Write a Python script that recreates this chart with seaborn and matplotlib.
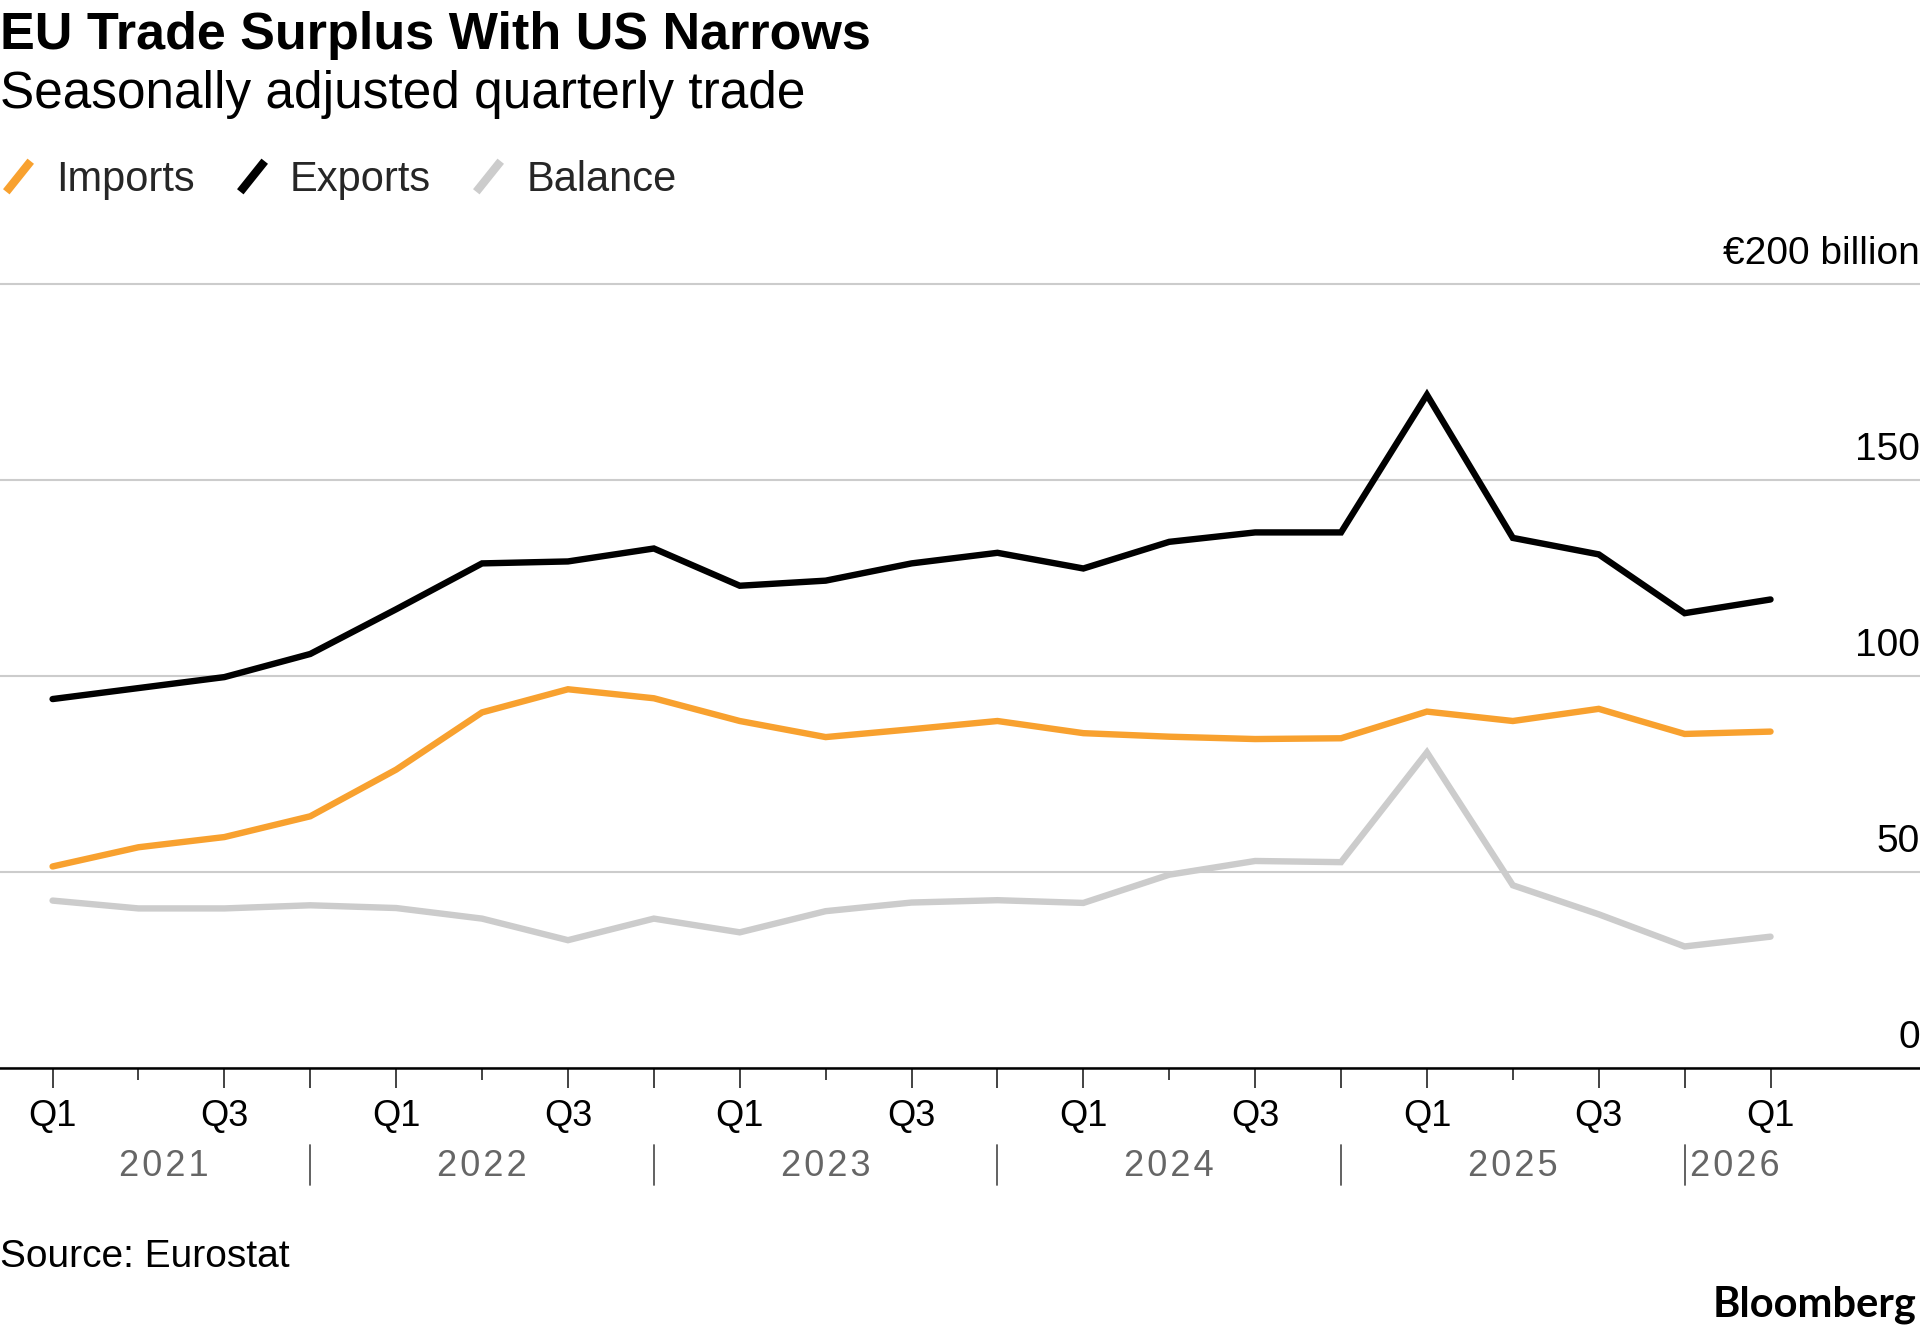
import pandas as pd
import seaborn as sns
import matplotlib.pyplot as plt
from matplotlib.lines import Line2D
from matplotlib import transforms

# Quarterly data, Q1 2021 .. Q1 2026 (EUR billion)
quarters = ['Q1', 'Q2', 'Q3', 'Q4'] * 5 + ['Q1']
year_labels = ['2021', '2022', '2023', '2024', '2025', '2026']
exports = [94.1, 96.9, 99.7, 105.6, 117.0, 128.7, 129.2, 132.5, 123.0, 124.3, 128.7,
           131.4, 127.4, 134.2, 136.6, 136.6, 171.7, 135.2, 131.0, 116.0, 119.5]
imports = [51.4, 56.3, 58.9, 64.2, 76.1, 90.7, 96.6, 94.3, 88.5, 84.4, 86.4,
           88.5, 85.4, 84.5, 83.9, 84.1, 90.9, 88.5, 91.6, 85.2, 85.8]
balance = [42.7, 40.7, 40.7, 41.5, 40.8, 38.1, 32.6, 38.1, 34.6, 40.0, 42.2,
           42.8, 42.1, 49.3, 52.8, 52.5, 80.5, 46.6, 39.2, 31.0, 33.5]
series_names = ['Imports', 'Exports', 'Balance']
colors = ['#f8a12f', '#000000', '#cccccc']
y_ticks = [0, 50, 100, 150, 200]
y_labels = ['0', '50', '100', '150', '€200 billion']

sns.set_theme(style='white')
plt.rcParams['font.family'] = ['Liberation Sans', 'DejaVu Sans']

df = pd.DataFrame({'t': range(len(quarters)), 'Imports': imports,
                   'Exports': exports, 'Balance': balance})
df = df.melt(id_vars='t', var_name='series', value_name='value')

W, H = 1920, 1333
fig = plt.figure(figsize=(W / 100, H / 100), dpi=100, facecolor='white')
ax = fig.add_axes([0, (H - 1068) / H, 1, (1068 - 276) / H])

sns.lineplot(data=df, x='t', y='value', hue='series', hue_order=series_names,
             palette=colors, legend=False, ax=ax)
# make sure the series lines are drawn thick
for ln in ax.lines:
    ln.set_linewidth(4.6)
    ln.set_solid_joinstyle('miter')
    ln.set_solid_capstyle('round')

ax.set_xlim(-0.612, 21.74)
ax.set_ylim(0, 202)
ax.set_xlabel('')
ax.set_ylabel('')
for s in ['top', 'left', 'right']:
    ax.spines[s].set_visible(False)
ax.spines['bottom'].set_color('black')
ax.spines['bottom'].set_linewidth(1.8)

# horizontal gridlines, labels sit above them at the right edge
ax.set_yticks(y_ticks)
ax.yaxis.grid(True, color='#cccccc', linewidth=1.5)
ax.set_axisbelow(True)
ax.tick_params(axis='y', length=0, labelleft=False, labelright=False)
lab_tr = transforms.blended_transform_factory(ax.transAxes, ax.transData) + \
    transforms.ScaledTranslation(0, 20 / 100, fig.dpi_scale_trans)
for v, lab in zip(y_ticks, y_labels):
    ax.text(1.0, v, lab, transform=lab_tr, ha='right', va='baseline',
            fontsize=28, color='black')

# quarter ticks: Q2 short, rest long; label Q1 and Q3 only
major = [i for i, q in enumerate(quarters) if q != 'Q2']
minor = [i for i, q in enumerate(quarters) if q == 'Q2']
ax.set_xticks(major)
ax.set_xticklabels([quarters[i] if quarters[i] in ('Q1', 'Q3') else '' for i in major])
ax.set_xticks(minor, minor=True)
ax.tick_params(axis='x', which='major', bottom=True, length=14.4, width=1.2,
               color='#222222', pad=8, labelsize=26, labelcolor='black')
ax.tick_params(axis='x', which='minor', bottom=True, length=8.6, width=1.2,
               color='#222222')

# year row with separators at each Q4
yr_tr = transforms.blended_transform_factory(ax.transData, fig.transFigure)
seps = [i for i, q in enumerate(quarters) if q == 'Q4']
for s in seps:
    ax.plot([s, s], [(H - 1185) / H, (H - 1145) / H], transform=yr_tr,
            color='#555555', lw=1.3, clip_on=False)
yr_base = (H - 1176) / H
for k, yl in enumerate(year_labels):
    txt = '\u200a'.join(yl)
    if k == 0:
        ax.text(1.3, yr_base, txt, transform=yr_tr, ha='center', va='baseline',
                fontsize=26, color='#666666')
    elif k == len(year_labels) - 1:
        ax.text(seps[-1] + 0.06, yr_base, txt, transform=yr_tr, ha='left',
                va='baseline', fontsize=26, color='#666666')
    else:
        ax.text(4 * k + 1, yr_base, txt, transform=yr_tr, ha='center',
                va='baseline', fontsize=26, color='#666666')

# titles
fig.text(0, 1 - 49 / H, 'EU Trade Surplus With US Narrows', ha='left',
         va='baseline', fontsize=37.5, fontweight='bold', color='black')
fig.text(0, 1 - 108 / H, 'Seasonally adjusted quarterly trade', ha='left',
         va='baseline', fontsize=37, color='black')

# legend with slash handles
slash = [(-0.8, -1), (0.8, 1)]
handles = [Line2D([], [], color=c, linestyle='none', marker=slash,
                  markersize=22, markeredgewidth=6.0) for c in colors]
fig.legend(handles, series_names, loc='center left',
           bbox_to_anchor=(0, 1 - 180 / H), ncol=3, frameon=False, fontsize=30,
           handlelength=0.86, handletextpad=0.48, columnspacing=0.95,
           borderpad=0, borderaxespad=0)

fig.text(0, (H - 1267) / H, 'Source: Eurostat', ha='left', va='baseline',
         fontsize=28, color='black')
fig.text(1 - 4 / W, (H - 1316) / H, 'Bloomberg', ha='right', va='baseline',
         fontsize=30, fontweight='bold', family=['Lato', 'DejaVu Sans'],
         color='black')

fig.savefig('out.png', dpi=100)
